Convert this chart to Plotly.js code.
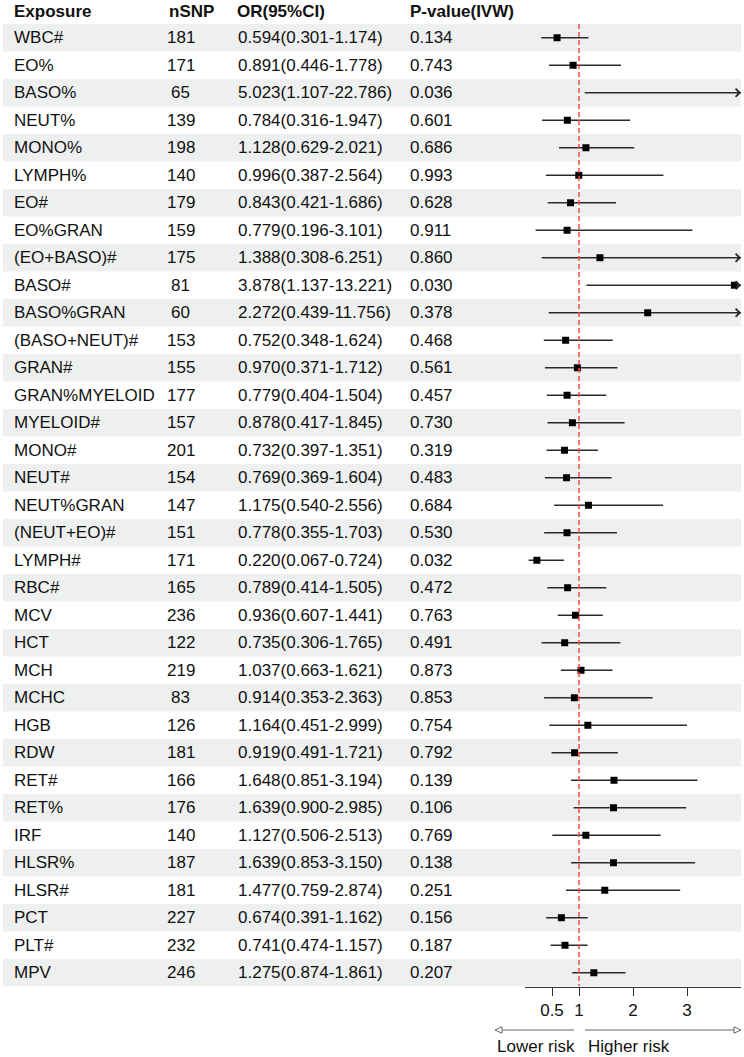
<!DOCTYPE html>
<html>
<head>
<meta charset="utf-8">
<script src="https://cdn.plot.ly/plotly-3.0.1.min.js"></script>
<style>html,body{margin:0;padding:0;background:#fff;}#chart{width:744px;height:1057px;}</style>
</head>
<body>
<div id="chart"></div>
<script>
const exposures = ["WBC#","EO%","BASO%","NEUT%","MONO%","LYMPH%","EO#","EO%GRAN","(EO+BASO)#","BASO#","BASO%GRAN","(BASO+NEUT)#","GRAN#","GRAN%MYELOID","MYELOID#","MONO#","NEUT#","NEUT%GRAN","(NEUT+EO)#","LYMPH#","RBC#","MCV","HCT","MCH","MCHC","HGB","RDW","RET#","RET%","IRF","HLSR%","HLSR#","PCT","PLT#","MPV"];
const nSNP = [181,171,65,139,198,140,179,159,175,81,60,153,155,177,157,201,154,147,151,171,165,236,122,219,83,126,181,166,176,140,187,181,227,232,246];
const orVals = [0.594,0.891,5.023,0.784,1.128,0.996,0.843,0.779,1.388,3.878,2.272,0.752,0.970,0.779,0.878,0.732,0.769,1.175,0.778,0.220,0.789,0.936,0.735,1.037,0.914,1.164,0.919,1.648,1.639,1.127,1.639,1.477,0.674,0.741,1.275];
const lower = [0.301,0.446,1.107,0.316,0.629,0.387,0.421,0.196,0.308,1.137,0.439,0.348,0.371,0.404,0.417,0.397,0.369,0.540,0.355,0.067,0.414,0.607,0.306,0.663,0.353,0.451,0.491,0.851,0.900,0.506,0.853,0.759,0.391,0.474,0.874];
const upper = [1.174,1.778,22.786,1.947,2.021,2.564,1.686,3.101,6.251,13.221,11.756,1.624,1.712,1.504,1.845,1.351,1.604,2.556,1.703,0.724,1.505,1.441,1.765,1.621,2.363,2.999,1.721,3.194,2.985,2.513,3.150,2.874,1.162,1.157,1.861];
const pvals = ["0.134","0.743","0.036","0.601","0.686","0.993","0.628","0.911","0.860","0.030","0.378","0.468","0.561","0.457","0.730","0.319","0.483","0.684","0.530","0.032","0.472","0.763","0.491","0.873","0.853","0.754","0.792","0.139","0.106","0.769","0.138","0.251","0.156","0.187","0.207"];
const headers = ["Exposure","nSNP","OR(95%CI)","P-value(IVW)"];
const xTicks = [0.5,1,2,3];
const xMax = 4;

const W = 744, H = 1057;
const px = v => v / W;
const py = v => 1 - v / H;
const FONT = "Arial, 'Liberation Sans', sans-serif";
const TXT = "#111111";
const n = exposures.length;
const rows = exposures.map((_, i) => i);

// CI lines (clipped at axis max)
const lx = [], ly = [];
rows.forEach(i => { lx.push(lower[i], Math.min(upper[i], xMax), null); ly.push(i, i, null); });

const traces = [
  {type:"scatter", mode:"lines", x:lx, y:ly, line:{color:"#2a2a2a", width:1.6}, hoverinfo:"skip", showlegend:false},
  {type:"scatter", mode:"markers", x:orVals, y:rows, marker:{symbol:"square", size:7, color:"#000"}, showlegend:false, cliponaxis:true}
];

const shapes = [];
rows.forEach(i => {
  if (i % 2 === 0) shapes.push({type:"rect", layer:"below", xref:"paper", yref:"y", x0:px(3), x1:px(741), y0:i-0.5, y1:i+0.5, fillcolor:"#eef0ef", line:{width:0}});
});
shapes.push({type:"line", xref:"x", yref:"y", x0:1, x1:1, y0:-0.5, y1:n-0.5, line:{color:"#f5484b", width:1.5, dash:"5px,3px"}});
// bottom direction arrows
const ay = py(1030);
shapes.push({type:"line", xref:"paper", yref:"paper", x0:px(497), x1:px(574), y0:ay, y1:ay, line:{color:"#666", width:1}});
shapes.push({type:"line", xref:"paper", yref:"paper", x0:px(585), x1:px(734), y0:ay, y1:ay, line:{color:"#666", width:1}});
shapes.push({type:"path", xref:"paper", yref:"paper", path:`M${px(495)},${ay} L${px(502)},${py(1026.8)} L${px(502)},${py(1033.2)} Z`, fillcolor:"#fff", line:{color:"#666", width:1}});
shapes.push({type:"path", xref:"paper", yref:"paper", path:`M${px(741)},${ay} L${px(734)},${py(1026.8)} L${px(734)},${py(1033.2)} Z`, fillcolor:"#fff", line:{color:"#666", width:1}});

const ann = [];
const colX = [12, 167, 235, 408];
headers.forEach((h, k) => ann.push({xref:"paper", yref:"paper", x:px(colX[k]), y:py(11), xanchor:"left", yanchor:"middle", text:"<b>"+h+"</b>", showarrow:false, font:{family:FONT, size:17, color:TXT}}));
rows.forEach(i => {
  ann.push({xref:"paper", yref:"y", x:px(12), y:i, xanchor:"left", yanchor:"middle", text:exposures[i], showarrow:false, font:{family:FONT, size:17, color:TXT}});
  ann.push({xref:"paper", yref:"y", x:px(180.5), y:i, xanchor:"center", yanchor:"middle", text:String(nSNP[i]), showarrow:false, font:{family:FONT, size:17, color:TXT}});
  ann.push({xref:"paper", yref:"y", x:px(236), y:i, xanchor:"left", yanchor:"middle", text:`${orVals[i].toFixed(3)}(${lower[i].toFixed(3)}-${upper[i].toFixed(3)})`, showarrow:false, font:{family:FONT, size:17, color:TXT}});
  ann.push({xref:"paper", yref:"y", x:px(408), y:i, xanchor:"left", yanchor:"middle", text:pvals[i], showarrow:false, font:{family:FONT, size:17, color:TXT}});
  if (upper[i] > xMax) {
    ann.push({xref:"x", yref:"y", axref:"x", ayref:"y", x:xMax, y:i, ax:xMax-0.1, ay:i, showarrow:true, arrowhead:4, arrowsize:1, arrowwidth:1.6, arrowcolor:"#2a2a2a", standoff:0, text:""});
  }
});
ann.push({xref:"paper", yref:"paper", x:px(495), y:py(1046), xanchor:"left", yanchor:"middle", text:"Lower risk", showarrow:false, font:{family:FONT, size:17, color:TXT}});
ann.push({xref:"paper", yref:"paper", x:px(586), y:py(1046), xanchor:"left", yanchor:"middle", text:"Higher risk", showarrow:false, font:{family:FONT, size:17, color:TXT}});

const layout = {
  width:W, height:H,
  margin:{l:0, r:0, t:0, b:0},
  paper_bgcolor:"#fff", plot_bgcolor:"rgba(0,0,0,0)",
  showlegend:false,
  xaxis:{domain:[px(525), px(741)], range:[0, xMax], tickvals:xTicks, ticktext:xTicks.map(String), ticks:"outside", ticklen:8, tickwidth:1, tickcolor:"#333", showline:true, linecolor:"#333", linewidth:1, showgrid:false, zeroline:false, tickfont:{family:FONT, size:17, color:TXT}, fixedrange:true},
  yaxis:{domain:[py(986.5), py(24)], range:[n-0.5, -0.5], showticklabels:false, showgrid:false, zeroline:false, showline:false, ticks:"", fixedrange:true},
  shapes:shapes, annotations:ann
};
Plotly.newPlot("chart", traces, layout, {displayModeBar:false, staticPlot:true});
</script>
</body>
</html>
